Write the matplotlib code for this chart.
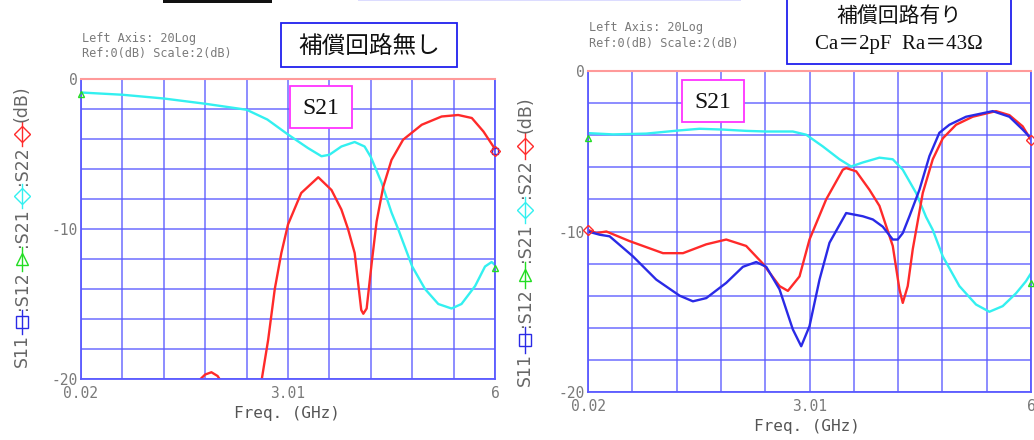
import numpy as np
import matplotlib
matplotlib.use("Agg")
import matplotlib.pyplot as plt
from matplotlib.lines import Line2D
from matplotlib.patches import Rectangle

plt.rcParams['font.family'] = ['DejaVu Sans', 'Noto Sans CJK JP']

W, H = 1034, 440
F_MIN, F_MAX = 0.02, 6.0

# ---- without compensation circuit ----
a_s21_f = [0.02, 0.618, 1.216, 1.814, 2.412, 2.711, 3.01, 3.297, 3.494, 3.608, 3.781,
           3.973, 4.116, 4.206, 4.361, 4.505, 4.601, 4.804, 4.989, 5.181, 5.372, 5.516,
           5.713, 5.856, 5.952, 6.0]
a_s21_db = [-0.9, -1.05, -1.3, -1.65, -2.05, -2.7, -3.7, -4.6, -5.15, -5.05, -4.5,
            -4.2, -4.5, -5.2, -6.9, -8.9, -10.0, -12.5, -14.0, -15.0, -15.3, -15.0,
            -13.8, -12.5, -12.2, -12.4]
a_s22_f1 = [1.724, 1.814, 1.904, 1.993, 2.035]
a_s22_db1 = [-20.1, -19.7, -19.55, -19.8, -20.1]
a_s22_f2 = [2.621, 2.723, 2.819, 2.914, 3.01, 3.201, 3.447, 3.638, 3.781, 3.877, 3.973,
            4.068, 4.098, 4.146, 4.218, 4.290, 4.385, 4.505, 4.672, 4.942, 5.229, 5.468,
            5.665, 5.833, 5.976, 6.0]
a_s22_db2 = [-20.3, -17.4, -14.0, -11.6, -9.7, -7.6, -6.55, -7.4, -8.7, -10.0, -11.6,
             -15.4, -15.65, -15.3, -12.3, -9.5, -7.2, -5.4, -4.05, -3.05, -2.5, -2.4,
             -2.6, -3.5, -4.5, -4.8]
a_s11_end = -4.8
a_s12_ends = [-1.0, -12.6]

# ---- with compensation circuit (Ca=2pF, Ra=43ohm) ----
b_s21_f = [0.02, 0.357, 0.807, 1.257, 1.526, 1.841, 2.155, 2.426, 2.785, 2.965, 3.190,
           3.415, 3.572, 3.729, 3.954, 4.134, 4.269, 4.449, 4.584, 4.674, 4.809, 5.033,
           5.258, 5.438, 5.618, 5.798, 5.932, 6.0]
b_s21_db = [-3.87, -3.95, -3.9, -3.7, -3.6, -3.65, -3.73, -3.77, -3.77, -3.97, -4.7,
            -5.5, -5.95, -5.7, -5.4, -5.5, -6.15, -7.6, -9.1, -9.9, -11.55, -13.4,
            -14.55, -15.0, -14.65, -13.85, -13.1, -12.6]
b_s22_f = [0.020, 0.132, 0.268, 0.582, 1.032, 1.302, 1.616, 1.886, 2.155, 2.380, 2.605,
           2.718, 2.875, 3.010, 3.235, 3.460, 3.505, 3.640, 3.819, 3.954, 4.134, 4.224,
           4.269, 4.336, 4.404, 4.539, 4.674, 4.809, 4.988, 5.213, 5.528, 5.708, 5.888, 6.0]
b_s22_db = [-9.9, -10.1, -10.0, -10.6, -11.35, -11.35, -10.8, -10.5, -10.9, -12.0, -13.4,
            -13.7, -12.8, -10.5, -8.0, -6.15, -6.05, -6.25, -7.4, -8.4, -10.9, -13.6,
            -14.45, -13.4, -11.1, -7.6, -5.5, -4.2, -3.35, -2.85, -2.5, -2.75, -3.45, -4.3]
b_s11_f = [0.020, 0.177, 0.312, 0.627, 0.942, 1.257, 1.436, 1.616, 1.886, 2.111, 2.291,
           2.426, 2.605, 2.785, 2.898, 3.010, 3.145, 3.280, 3.505, 3.729, 3.865, 3.999,
           4.134, 4.201, 4.269, 4.359, 4.494, 4.629, 4.763, 4.898, 5.123, 5.483, 5.708,
           5.888, 6.0]
b_s11_db = [-10.0, -10.2, -10.3, -11.55, -13.0, -14.0, -14.35, -14.15, -13.2, -12.2, -11.9,
            -12.2, -13.6, -16.1, -17.15, -15.9, -13.0, -10.7, -8.85, -9.05, -9.25, -9.7,
            -10.5, -10.5, -10.1, -9.05, -7.4, -5.3, -3.85, -3.35, -2.85, -2.5, -2.85,
            -3.65, -4.2]
b_s12_ends = [-4.2, -13.2]

x_tick_labels = ["0.02", "3.01", "6"]
y_tick_labels = ["0", "-10", "-20"]

C_RED = '#ff2a2a'
C_BLUE = '#2a2ae6'
C_CYAN = '#33f0f0'
C_GREEN = '#22dd22'
C_GRID = '#5a5aff'
C_GRAY = '#7a7a7a'
MONO = 'DejaVu Sans Mono'

fig = plt.figure(figsize=(W / 100, H / 100), dpi=100)


def px_box(l, t, r, b):
    return [l / W, 1 - b / H, (r - l) / W, (b - t) / H]


def setup_axes(ax):
    ax.set_xlim(F_MIN, F_MAX)
    ax.set_ylim(-20, 0)
    xt = np.linspace(F_MIN, F_MAX, 11)
    yt = np.arange(-20, 1, 2)
    ax.set_xticks(xt)
    ax.set_yticks(yt)
    ax.set_xticklabels([x_tick_labels[i // 5] if i % 5 == 0 else "" for i in range(11)])
    ax.set_yticklabels([y_tick_labels[(0 - v) // 10] if v % 10 == 0 else "" for v in yt])
    ax.tick_params(length=0, labelsize=10.5, labelcolor=C_GRAY)
    ax.tick_params(axis='x', pad=5)
    ax.tick_params(axis='y', pad=2)
    for lab in ax.get_xticklabels() + ax.get_yticklabels():
        lab.set_family(MONO)
    ax.grid(True, color=C_GRID, lw=1.3, alpha=0.75)
    for s in ('left', 'bottom', 'right'):
        ax.spines[s].set_color(C_GRID)
        ax.spines[s].set_linewidth(1.3)
    ax.spines['top'].set_color('#ff9a9a')
    ax.spines['top'].set_linewidth(1.5)
    ax.set_axisbelow(True)


def end_marks(ax, x, y, color, marker):
    ax.plot(x, y, ls='none', marker=marker, ms=5, mfc='none', mec=color, mew=1.0,
            clip_on=False, zorder=4)


# left panel
ax1 = fig.add_axes(px_box(81, 79, 495, 379))
setup_axes(ax1)
ax1.plot(a_s21_f, a_s21_db, color=C_CYAN, lw=1.7)
ax1.plot(a_s22_f1, a_s22_db1, color=C_RED, lw=1.7)
ax1.plot(a_s22_f2, a_s22_db2, color=C_RED, lw=1.7)
end_marks(ax1, [F_MAX], [a_s11_end], C_BLUE, 's')
end_marks(ax1, [F_MAX], [a_s22_db2[-1]], C_RED, 'D')
end_marks(ax1, [F_MIN, F_MAX], a_s12_ends, C_GREEN, '^')

# right panel
ax2 = fig.add_axes(px_box(588, 71, 1031, 392))
setup_axes(ax2)
ax2.plot(b_s21_f, b_s21_db, color=C_CYAN, lw=1.7)
ax2.plot(b_s22_f, b_s22_db, color=C_RED, lw=1.7)
ax2.plot(b_s11_f, b_s11_db, color=C_BLUE, lw=1.7)
end_marks(ax2, [F_MIN, F_MAX], [b_s22_db[0], b_s22_db[-1]], C_RED, 'D')
end_marks(ax2, [F_MIN, F_MAX], b_s12_ends, C_GREEN, '^')

# axis headers and x labels
for x0, y0 in ((82, 38), (589, 27)):
    fig.text(x0 / W, 1 - y0 / H, "Left Axis: 20Log", family=MONO, size=8.6,
             color=C_GRAY, va='center')
    fig.text(x0 / W, 1 - (y0 + 16) / H, "Ref:0(dB) Scale:2(dB)", family=MONO,
             size=8.6, color=C_GRAY, va='center')
fig.text(287 / W, 1 - 413 / H, "Freq. (GHz)", family=MONO, size=11.5, color='#555555',
         ha='center', va='center')
fig.text(807 / W, 1 - 426 / H, "Freq. (GHz)", family=MONO, size=11.5, color='#555555',
         ha='center', va='center')

# rotated legend-style y labels
pieces = [('t', "S11", None), ('m', 's', C_BLUE), ('t', ":S12", None), ('m', '^', C_GREEN),
          ('t', ":S21", None), ('m', 'D', C_CYAN), ('t', ":S22", None), ('m', 'D', C_RED),
          ('t', "(dB)", None)]
renderer = fig.canvas.get_renderer()


def y_label(xc, y_start, size, seg):
    y = y_start
    for kind, val, color in pieces:
        if kind == 't':
            t = fig.text(xc / W, y / H, val, rotation=90, ha='center', va='bottom',
                         size=size, color='#666666')
            y += t.get_window_extent(renderer).height
        else:
            fig.add_artist(Line2D([xc / W, xc / W], [y / H, (y + seg) / H], color=color,
                                  lw=1.0))
            fig.add_artist(Line2D([xc / W], [(y + seg / 2) / H], ls='none', marker=val,
                                  ms=8, mfc='none', mec=color, mew=1.0))
            y += seg


y_label(22, H - 367, 12.5, 24)
y_label(525, H - 386, 12.5, 26)

# annotation boxes
fig.add_artist(Rectangle((281 / W, 1 - 67 / H), 176 / W, 44 / H, transform=fig.transFigure,
                         fill=True, fc='white', ec='#2020ee', lw=1.3))
fig.text(369 / W, 1 - 46 / H, "補償回路無し", family=['Noto Sans CJK JP'], size=17,
         ha='center', va='center', color='#111111')

fig.add_artist(Rectangle((787 / W, 1 - 64 / H), 224 / W, 70 / H, transform=fig.transFigure,
                         fill=True, fc='white', ec='#2020ee', lw=1.3, clip_on=False))
fig.text(899 / W, 1 - 16 / H, "補償回路有り", family=['Noto Sans CJK JP'], size=15,
         ha='center', va='center', color='#111111')
fig.text(899 / W, 1 - 45 / H, "Ca＝2pF  Ra＝43Ω", family=['Liberation Serif', 'Noto Sans CJK JP'],
         size=15, ha='center', va='center', color='#111111')

for l, t in ((290, 86), (682, 80)):
    fig.add_artist(Rectangle((l / W, 1 - (t + 42) / H), 62 / W, 42 / H,
                             transform=fig.transFigure, fc='white', ec='#ff33ff', lw=1.3))
    fig.text((l + 31) / W, 1 - (t + 22) / H, "S21", family='Liberation Serif', size=17,
             ha='center', va='center', color='#111111')

# strips along the top edge
fig.add_artist(Rectangle((163 / W, 1 - 3 / H), 109 / W, 3 / H, transform=fig.transFigure,
                         fc='#111111', ec='none'))
fig.add_artist(Rectangle((358 / W, 1 - 1.5 / H), 383 / W, 1.5 / H, transform=fig.transFigure,
                         fc='#dcdcff', ec='none'))

fig.savefig("out.png", dpi=100)
